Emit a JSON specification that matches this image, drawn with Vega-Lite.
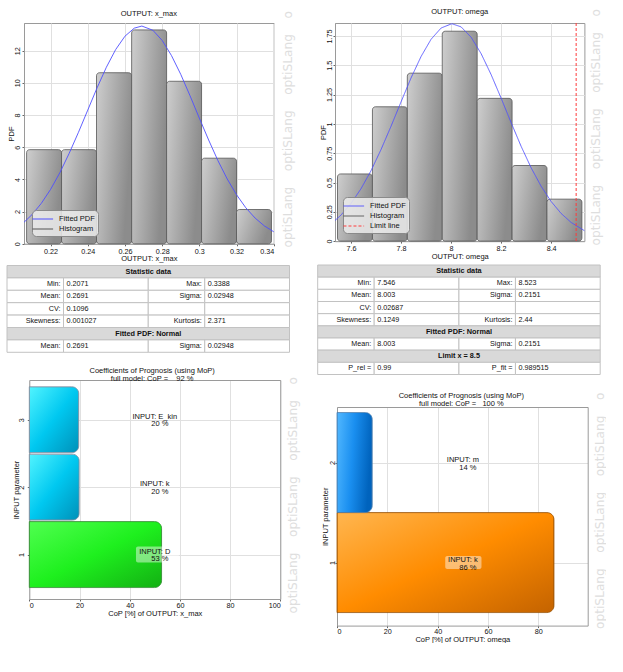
{
  "$schema": "https://vega.github.io/schema/vega-lite/v6.json",
  "background": "white",
  "padding": {"left": 6, "top": 7, "right": 0, "bottom": 0},
  "config": {
    "font": "Liberation Sans",
    "view": {"stroke": "#9a9a9a"},
    "axis": {"gridColor": "#e0e0e0", "domainColor": "#9a9a9a", "tickColor": "#666", "tickSize": 2, "labelFontSize": 7.2, "titleFontSize": 7.5, "titleFontWeight": "normal", "labelColor": "#111", "titleColor": "#111", "labelPadding": 1, "titlePadding": 0},
    "axisY": {"labelAngle": 270, "labelAlign": "center", "labelBaseline": "alphabetic", "titleAngle": 270, "titleBaseline": "alphabetic"},
    "title": {"fontSize": 7.5, "fontWeight": "normal", "color": "#111", "font": "Liberation Sans", "frame": "group", "baseline": "bottom"},
    "legend": {"labelFontSize": 7.5, "labelColor": "#111", "labelFont": "Liberation Sans"}
  },
  "datasets": {
    "histL": [
      {"bin0": 0.2071, "bin1": 0.2259, "density": 5.85},
      {"bin0": 0.2259, "bin1": 0.2447, "density": 5.85},
      {"bin0": 0.2447, "bin1": 0.2636, "density": 10.63},
      {"bin0": 0.2636, "bin1": 0.2824, "density": 13.29},
      {"bin0": 0.2824, "bin1": 0.3012, "density": 10.10},
      {"bin0": 0.3012, "bin1": 0.3200, "density": 5.32},
      {"bin0": 0.3200, "bin1": 0.3388, "density": 2.13}
    ],
    "pdfL": [
      {"x": 0.2057, "pdf": 1.34}, {"x": 0.21, "pdf": 1.81}, {"x": 0.215, "pdf": 2.51}, {"x": 0.22, "pdf": 3.38},
      {"x": 0.225, "pdf": 4.42}, {"x": 0.23, "pdf": 5.62}, {"x": 0.235, "pdf": 6.93}, {"x": 0.24, "pdf": 8.31},
      {"x": 0.245, "pdf": 9.69}, {"x": 0.25, "pdf": 10.97}, {"x": 0.255, "pdf": 12.07}, {"x": 0.26, "pdf": 12.90},
      {"x": 0.265, "pdf": 13.40}, {"x": 0.2691, "pdf": 13.53}, {"x": 0.275, "pdf": 13.27}, {"x": 0.28, "pdf": 12.64},
      {"x": 0.285, "pdf": 11.70}, {"x": 0.29, "pdf": 10.53}, {"x": 0.295, "pdf": 9.20}, {"x": 0.3, "pdf": 7.81},
      {"x": 0.305, "pdf": 6.45}, {"x": 0.31, "pdf": 5.17}, {"x": 0.315, "pdf": 4.03}, {"x": 0.32, "pdf": 3.05},
      {"x": 0.325, "pdf": 2.24}, {"x": 0.33, "pdf": 1.60}, {"x": 0.335, "pdf": 1.11}, {"x": 0.34, "pdf": 0.75}
    ],
    "histR": [
      {"bin0": 7.546, "bin1": 7.6856, "density": 0.573},
      {"bin0": 7.6856, "bin1": 7.8251, "density": 1.146},
      {"bin0": 7.8251, "bin1": 7.9647, "density": 1.433},
      {"bin0": 7.9647, "bin1": 8.1043, "density": 1.791},
      {"bin0": 8.1043, "bin1": 8.2439, "density": 1.218},
      {"bin0": 8.2439, "bin1": 8.3834, "density": 0.645},
      {"bin0": 8.3834, "bin1": 8.523, "density": 0.358}
    ],
    "pdfR": [
      {"x": 7.536, "pdf": 0.176}, {"x": 7.56, "pdf": 0.222}, {"x": 7.6, "pdf": 0.321}, {"x": 7.64, "pdf": 0.447},
      {"x": 7.68, "pdf": 0.601}, {"x": 7.72, "pdf": 0.781}, {"x": 7.76, "pdf": 0.980}, {"x": 7.8, "pdf": 1.188},
      {"x": 7.84, "pdf": 1.392}, {"x": 7.88, "pdf": 1.575}, {"x": 7.92, "pdf": 1.722}, {"x": 7.96, "pdf": 1.818},
      {"x": 8.003, "pdf": 1.855}, {"x": 8.04, "pdf": 1.828}, {"x": 8.08, "pdf": 1.740}, {"x": 8.12, "pdf": 1.600},
      {"x": 8.16, "pdf": 1.421}, {"x": 8.2, "pdf": 1.220}, {"x": 8.24, "pdf": 1.011}, {"x": 8.28, "pdf": 0.809},
      {"x": 8.32, "pdf": 0.626}, {"x": 8.36, "pdf": 0.468}, {"x": 8.4, "pdf": 0.338}, {"x": 8.44, "pdf": 0.236},
      {"x": 8.48, "pdf": 0.159}, {"x": 8.533, "pdf": 0.089}
    ],
    "tableL": [
      {"row": 0, "c0": 0, "c1": 10, "kind": "head", "text": "Statistic data"},
      {"row": 1, "c0": 0, "c1": 2, "kind": "label", "text": "Min:"},
      {"row": 1, "c0": 2, "c1": 5, "kind": "value", "text": "0.2071"},
      {"row": 1, "c0": 5, "c1": 7, "kind": "label", "text": "Max:"},
      {"row": 1, "c0": 7, "c1": 10, "kind": "value", "text": "0.3388"},
      {"row": 2, "c0": 0, "c1": 2, "kind": "label", "text": "Mean:"},
      {"row": 2, "c0": 2, "c1": 5, "kind": "value", "text": "0.2691"},
      {"row": 2, "c0": 5, "c1": 7, "kind": "label", "text": "Sigma:"},
      {"row": 2, "c0": 7, "c1": 10, "kind": "value", "text": "0.02948"},
      {"row": 3, "c0": 0, "c1": 2, "kind": "label", "text": "CV:"},
      {"row": 3, "c0": 2, "c1": 5, "kind": "value", "text": "0.1096"},
      {"row": 3, "c0": 5, "c1": 7, "kind": "label", "text": ""},
      {"row": 3, "c0": 7, "c1": 10, "kind": "value", "text": ""},
      {"row": 4, "c0": 0, "c1": 2, "kind": "label", "text": "Skewness:"},
      {"row": 4, "c0": 2, "c1": 5, "kind": "value", "text": "0.001027"},
      {"row": 4, "c0": 5, "c1": 7, "kind": "label", "text": "Kurtosis:"},
      {"row": 4, "c0": 7, "c1": 10, "kind": "value", "text": "2.371"},
      {"row": 5, "c0": 0, "c1": 10, "kind": "head", "text": "Fitted PDF: Normal"},
      {"row": 6, "c0": 0, "c1": 2, "kind": "label", "text": "Mean:"},
      {"row": 6, "c0": 2, "c1": 5, "kind": "value", "text": "0.2691"},
      {"row": 6, "c0": 5, "c1": 7, "kind": "label", "text": "Sigma:"},
      {"row": 6, "c0": 7, "c1": 10, "kind": "value", "text": "0.02948"}
    ],
    "tableR": [
      {"row": 0, "c0": 0, "c1": 10, "kind": "head", "text": "Statistic data"},
      {"row": 1, "c0": 0, "c1": 2, "kind": "label", "text": "Min:"},
      {"row": 1, "c0": 2, "c1": 5, "kind": "value", "text": "7.546"},
      {"row": 1, "c0": 5, "c1": 7, "kind": "label", "text": "Max:"},
      {"row": 1, "c0": 7, "c1": 10, "kind": "value", "text": "8.523"},
      {"row": 2, "c0": 0, "c1": 2, "kind": "label", "text": "Mean:"},
      {"row": 2, "c0": 2, "c1": 5, "kind": "value", "text": "8.003"},
      {"row": 2, "c0": 5, "c1": 7, "kind": "label", "text": "Sigma:"},
      {"row": 2, "c0": 7, "c1": 10, "kind": "value", "text": "0.2151"},
      {"row": 3, "c0": 0, "c1": 2, "kind": "label", "text": "CV:"},
      {"row": 3, "c0": 2, "c1": 5, "kind": "value", "text": "0.02687"},
      {"row": 3, "c0": 5, "c1": 7, "kind": "label", "text": ""},
      {"row": 3, "c0": 7, "c1": 10, "kind": "value", "text": ""},
      {"row": 4, "c0": 0, "c1": 2, "kind": "label", "text": "Skewness:"},
      {"row": 4, "c0": 2, "c1": 5, "kind": "value", "text": "0.1249"},
      {"row": 4, "c0": 5, "c1": 7, "kind": "label", "text": "Kurtosis:"},
      {"row": 4, "c0": 7, "c1": 10, "kind": "value", "text": "2.44"},
      {"row": 5, "c0": 0, "c1": 10, "kind": "head", "text": "Fitted PDF: Normal"},
      {"row": 6, "c0": 0, "c1": 2, "kind": "label", "text": "Mean:"},
      {"row": 6, "c0": 2, "c1": 5, "kind": "value", "text": "8.003"},
      {"row": 6, "c0": 5, "c1": 7, "kind": "label", "text": "Sigma:"},
      {"row": 6, "c0": 7, "c1": 10, "kind": "value", "text": "0.2151"},
      {"row": 7, "c0": 0, "c1": 10, "kind": "head", "text": "Limit x = 8.5"},
      {"row": 8, "c0": 0, "c1": 2, "kind": "label", "text": "P_rel ="},
      {"row": 8, "c0": 2, "c1": 5, "kind": "value", "text": "0.99"},
      {"row": 8, "c0": 5, "c1": 7, "kind": "label", "text": "P_fit ="},
      {"row": 8, "c0": 7, "c1": 10, "kind": "value", "text": "0.989515"}
    ],
    "copL": [
      {"param": 1, "input": "D", "cop": 52.7, "label": "INPUT: D", "pct": "53 %"},
      {"param": 2, "input": "k", "cop": 19.9, "label": "INPUT: k", "pct": "20 %"},
      {"param": 3, "input": "E_kin", "cop": 19.7, "label": "INPUT: E_kin", "pct": "20 %"}
    ],
    "copR": [
      {"param": 1, "input": "k", "cop": 86.2, "label": "INPUT: k", "pct": "86 %"},
      {"param": 2, "input": "m", "cop": 14.0, "label": "INPUT: m", "pct": "14 %"}
    ]
  },
  "resolve": {"scale": {"stroke": "independent", "strokeDash": "independent"}, "legend": {"stroke": "independent", "strokeDash": "independent"}},
  "spacing": 18,
  "hconcat": [
    {
      "spacing": 1.5,
      "resolve": {"scale": {"stroke": "independent", "strokeDash": "independent"}, "legend": {"stroke": "independent", "strokeDash": "independent"}},
      "vconcat": [
        {
          "width": 249.7, "height": 220.8,
          "title": {"text": "OUTPUT: x_max", "offset": -7.3},
          "resolve": {"scale": {"y": "shared"}, "axis": {"y": "independent"}},
          "layer": [
            {
              "data": {"name": "histL"},
              "mark": {"type": "rect", "cornerRadius": 3, "strokeWidth": 0.8,
                "fill": {"gradient": "linear", "x1": 0, "y1": 0, "x2": 1, "y2": 0.35, "stops": [{"offset": 0, "color": "#cecece"}, {"offset": 1, "color": "#8c8c8c"}]}},
              "encoding": {
                "x": {"field": "bin0", "type": "quantitative", "scale": {"domain": [0.2057, 0.34], "nice": false, "zero": false},
                  "axis": {"values": [0.22, 0.24, 0.26, 0.28, 0.3, 0.32, 0.34], "format": ".2~f", "title": "OUTPUT: x_max", "grid": true, "labelPadding": 1.3}},
                "x2": {"field": "bin1"},
                "y": {"field": "density", "type": "quantitative", "scale": {"domain": [0, 13.72], "nice": false},
                  "axis": {"values": [0, 2, 4, 6, 8, 10, 12], "title": "PDF", "grid": true, "labelPadding": 2.3, "minExtent": 17, "titleX": -10.3}},
                "y2": {"datum": 0},
                "stroke": {"datum": "Histogram", "type": "nominal",
                  "scale": {"domain": ["Fitted PDF", "Histogram"], "range": ["#4f4fff", "#555555"]},
                  "legend": {"title": null, "orient": "bottom-left", "offset": 8, "fillColor": "rgba(236,236,236,0.85)", "strokeColor": "#8a8a8a", "cornerRadius": 4, "padding": 3, "symbolSize": 121, "labelOffset": 12, "rowPadding": 0, "symbolStrokeWidth": 1, "symbolType": "M-1.55,0H2.2"}}
              }
            },
            {
              "data": {"name": "pdfL"},
              "mark": {"type": "line", "strokeWidth": 0.9},
              "encoding": {
                "x": {"field": "x", "type": "quantitative"},
                "y": {"field": "pdf", "type": "quantitative", "scale": {"domain": [0, 13.72], "nice": false},
                  "axis": {"orient": "right", "title": "optiSLang\u00a0\u00a0\u00a0\u00a0optiSLang\u00a0\u00a0\u00a0\u00a0optiSLang\u00a0\u00a0\u00a0\u00a0o", "labels": false, "ticks": false, "domain": false, "grid": false, "minExtent": 0, "titleColor": "#dedede", "titleFont": "DejaVu Sans", "titleFontSize": 12.2, "titleX": 17.3, "titleY": 105.8}},
                "stroke": {"datum": "Fitted PDF", "type": "nominal"}
              }
            }
          ]
        },
        {
          "width": 265.5, "height": 98.4,
          "view": {"stroke": null},
          "data": {"name": "tableL"},
          "encoding": {
            "y": {"field": "row", "type": "ordinal", "scale": {"paddingInner": 0, "paddingOuter": 0.468, "align": 0}, "axis": null}
          },
          "layer": [
            {
              "mark": {"type": "rect", "stroke": "#c2c2c2", "strokeWidth": 1},
              "encoding": {
                "x": {"field": "c0", "type": "quantitative", "scale": {"domain": [0, 10], "range": [-17, 265.5], "nice": false, "zero": false}, "axis": null},
                "x2": {"field": "c1"},
                "fill": {"field": "kind", "type": "nominal", "scale": {"domain": ["head", "label", "value"], "range": ["#d9d9d9", "#ffffff", "#ffffff"]}, "legend": null}
              }
            },
            {
              "transform": [{"filter": "datum.kind === 'head'"}],
              "mark": {"type": "text", "fontWeight": "bold", "fontSize": 7.3, "color": "#111"},
              "encoding": {"x": {"datum": 5}, "text": {"field": "text"}}
            },
            {
              "transform": [{"filter": "datum.kind === 'label'"}],
              "mark": {"type": "text", "align": "right", "dx": -3, "fontSize": 7.2, "color": "#111"},
              "encoding": {"x": {"field": "c1", "type": "quantitative"}, "text": {"field": "text"}}
            },
            {
              "transform": [{"filter": "datum.kind === 'value'"}],
              "mark": {"type": "text", "align": "left", "dx": 3, "fontSize": 7.2, "color": "#111"},
              "encoding": {"x": {"field": "c0", "type": "quantitative"}, "text": {"field": "text"}}
            }
          ]
        },
        {
          "width": 256.3, "height": 219,
          "view": {"stroke": null},
          "title": {"text": ["Coefficients of Prognosis (using MoP)", "full model: CoP =\u00a0\u00a0\u00a0\u00a092 %"], "lineHeight": 8, "offset": -5.6},
          "data": {"name": "copL"},
          "resolve": {"scale": {"y": "shared", "x": "shared"}, "axis": {"y": "independent", "x": "independent"}},
          "layer": [
            {
              "transform": [{"filter": "datum.param === 1"}],
              "mark": {"type": "bar", "orient": "horizontal", "size": 66, "cornerRadiusEnd": 7, "stroke": "#2f8f2f", "strokeWidth": 0.8,
                "fill": {"gradient": "linear", "x1": 0, "y1": 0, "x2": 1, "y2": 1, "stops": [{"offset": 0, "color": "#50ff50"}, {"offset": 0.5, "color": "#1ef01e"}, {"offset": 1, "color": "#13b013"}]}},
              "encoding": {
                "x": {"field": "cop", "type": "quantitative", "scale": {"domain": [0, 100], "range": [5.3, 256.3], "nice": false},
                  "axis": {"values": [0, 20, 40, 60, 80, 100], "title": "CoP [%] of OUTPUT: x_max", "grid": true, "labelPadding": 0.4, "titlePadding": 0.5}},
                "y": {"field": "param", "type": "quantitative", "scale": {"domain": [0.415, 3.515], "nice": false, "zero": false},
                  "axis": {"values": [1, 2, 3], "title": "INPUT parameter", "grid": true, "offset": -5.3, "labelPadding": 3.6, "titleX": -10.5}}
              }
            },
            {
              "transform": [{"filter": "datum.param !== 1"}],
              "mark": {"type": "bar", "orient": "horizontal", "size": 66, "cornerRadiusEnd": 7, "stroke": "#7d8fa3", "strokeWidth": 0.8,
                "fill": {"gradient": "linear", "x1": 0, "y1": 0, "x2": 1, "y2": 1, "stops": [{"offset": 0, "color": "#52f4ff"}, {"offset": 0.5, "color": "#00c8f0"}, {"offset": 1, "color": "#0090b8"}]}},
              "encoding": {
                "x": {"field": "cop", "type": "quantitative", "axis": null},
                "y": {"field": "param", "type": "quantitative", "axis": null}
              }
            },
            {
              "transform": [{"filter": "datum.param === 1"}],
              "mark": {"type": "bar", "orient": "horizontal", "size": 16, "cornerRadius": 2, "fill": "#ffffff", "fillOpacity": 0.45},
              "encoding": {
                "x": {"datum": 42.5, "type": "quantitative", "axis": null},
                "x2": {"datum": 59.6},
                "y": {"field": "param", "type": "quantitative", "axis": null}
              }
            },
            {
              "mark": {"type": "text", "dy": -3, "fontSize": 7.5, "color": "#111"},
              "encoding": {
                "x": {"datum": 50, "type": "quantitative", "axis": {"orient": "top", "labels": false, "ticks": false, "title": null, "grid": false, "domain": true}},
                "y": {"field": "param", "type": "quantitative",
                  "axis": {"orient": "right", "title": "optiSLang\u00a0\u00a0\u00a0\u00a0optiSLang\u00a0\u00a0\u00a0\u00a0optiSLang\u00a0\u00a0\u00a0\u00a0o", "labels": false, "ticks": false, "domain": true, "grid": false, "minExtent": 0, "titleColor": "#dedede", "titleFont": "DejaVu Sans", "titleFontSize": 12.2, "titleX": 15.7, "titleY": 114.7}},
                "text": {"field": "label"}
              }
            },
            {
              "mark": {"type": "text", "dy": 4.5, "dx": 5, "fontSize": 7.5, "color": "#111"},
              "encoding": {
                "x": {"datum": 50, "type": "quantitative", "axis": null},
                "y": {"field": "param", "type": "quantitative", "axis": null},
                "text": {"field": "pct"}
              }
            }
          ]
        }
      ]
    },
    {
      "spacing": 4,
      "resolve": {"scale": {"stroke": "independent", "strokeDash": "independent"}, "legend": {"stroke": "independent", "strokeDash": "independent"}},
      "vconcat": [
        {
          "width": 249.4, "height": 218.1,
          "title": {"text": "OUTPUT: omega", "offset": -6.6},
          "resolve": {"scale": {"y": "shared"}, "axis": {"y": "independent"}},
          "layer": [
            {
              "data": {"name": "histR"},
              "mark": {"type": "rect", "cornerRadius": 3, "strokeWidth": 0.8,
                "fill": {"gradient": "linear", "x1": 0, "y1": 0, "x2": 1, "y2": 0.35, "stops": [{"offset": 0, "color": "#cecece"}, {"offset": 1, "color": "#8c8c8c"}]}},
              "encoding": {
                "x": {"field": "bin0", "type": "quantitative", "scale": {"domain": [7.536, 8.533], "nice": false, "zero": false},
                  "axis": {"values": [7.6, 7.8, 8, 8.2, 8.4], "format": ".1~f", "title": "OUTPUT: omega", "grid": true, "labelPadding": 1.7}},
                "x2": {"field": "bin1"},
                "y": {"field": "density", "type": "quantitative", "scale": {"domain": [0, 1.861], "nice": false},
                  "axis": {"values": [0, 0.25, 0.5, 0.75, 1, 1.25, 1.5, 1.75], "format": ".3~g", "title": "PDF", "grid": true, "labelPadding": 1.3, "minExtent": 17.3, "titleX": -9.3}},
                "y2": {"datum": 0},
                "stroke": {"datum": "Histogram", "type": "nominal",
                  "scale": {"domain": ["Fitted PDF", "Histogram", "Limit line"], "range": ["#4f4fff", "#555555", "#ff3c3c"]},
                  "legend": {"title": null, "orient": "bottom-left", "offset": 8, "fillColor": "rgba(236,236,236,0.85)", "strokeColor": "#8a8a8a", "cornerRadius": 4, "padding": 3, "symbolSize": 121, "labelOffset": 12, "rowPadding": 0, "symbolStrokeWidth": 1, "symbolType": "M-1.55,0H2.2"}}
              }
            },
            {
              "data": {"name": "pdfR"},
              "mark": {"type": "line", "strokeWidth": 0.9},
              "encoding": {
                "x": {"field": "x", "type": "quantitative"},
                "y": {"field": "pdf", "type": "quantitative", "scale": {"domain": [0, 1.861], "nice": false},
                  "axis": {"orient": "right", "title": "optiSLang\u00a0\u00a0\u00a0\u00a0optiSLang\u00a0\u00a0\u00a0\u00a0optiSLang\u00a0\u00a0\u00a0\u00a0o", "labels": false, "ticks": false, "domain": false, "grid": false, "minExtent": 0, "titleColor": "#dedede", "titleFont": "DejaVu Sans", "titleFontSize": 12.2, "titleX": 15.3, "titleY": 103.8}},
                "stroke": {"datum": "Fitted PDF", "type": "nominal"},
                "strokeDash": {"datum": "Fitted PDF", "type": "nominal",
                  "scale": {"domain": ["Fitted PDF", "Histogram", "Limit line"], "range": [[1, 0], [1, 0], [3, 2]]},
                  "legend": {"title": null, "orient": "bottom-left", "offset": 8, "fillColor": "rgba(236,236,236,0.85)", "strokeColor": "#8a8a8a", "cornerRadius": 4, "padding": 3, "symbolSize": 121, "labelOffset": 12, "rowPadding": 0, "symbolStrokeWidth": 1, "symbolType": "M-1.55,0H2.2"}}
              }
            },
            {
              "data": {"values": [{"limit": 8.5}]},
              "mark": {"type": "rule", "strokeWidth": 1},
              "encoding": {
                "x": {"field": "limit", "type": "quantitative"},
                "stroke": {"datum": "Limit line", "type": "nominal"},
                "strokeDash": {"datum": "Limit line", "type": "nominal"}
              }
            }
          ]
        },
        {
          "width": 265.2, "height": 121.5,
          "view": {"stroke": null},
          "data": {"name": "tableR"},
          "encoding": {
            "y": {"field": "row", "type": "ordinal", "scale": {"paddingInner": 0, "paddingOuter": 0.493, "align": 0}, "axis": null}
          },
          "layer": [
            {
              "mark": {"type": "rect", "stroke": "#c2c2c2", "strokeWidth": 1},
              "encoding": {
                "x": {"field": "c0", "type": "quantitative", "scale": {"domain": [0, 10], "range": [-17.3, 265.2], "nice": false, "zero": false}, "axis": null},
                "x2": {"field": "c1"},
                "fill": {"field": "kind", "type": "nominal", "scale": {"domain": ["head", "label", "value"], "range": ["#d9d9d9", "#ffffff", "#ffffff"]}, "legend": null}
              }
            },
            {
              "transform": [{"filter": "datum.kind === 'head'"}],
              "mark": {"type": "text", "fontWeight": "bold", "fontSize": 7.3, "color": "#111"},
              "encoding": {"x": {"datum": 5}, "text": {"field": "text"}}
            },
            {
              "transform": [{"filter": "datum.kind === 'label'"}],
              "mark": {"type": "text", "align": "right", "dx": -3, "fontSize": 7.2, "color": "#111"},
              "encoding": {"x": {"field": "c1", "type": "quantitative"}, "text": {"field": "text"}}
            },
            {
              "transform": [{"filter": "datum.kind === 'value'"}],
              "mark": {"type": "text", "align": "left", "dx": 3, "fontSize": 7.2, "color": "#111"},
              "encoding": {"x": {"field": "c0", "type": "quantitative"}, "text": {"field": "text"}}
            }
          ]
        },
        {
          "width": 252.7, "height": 218.6,
          "view": {"stroke": null},
          "title": {"text": ["Coefficients of Prognosis (using MoP)", "full model: CoP =\u00a0\u00a0\u00a0100 %"], "lineHeight": 8, "offset": -15.3},
          "data": {"name": "copR"},
          "resolve": {"scale": {"y": "shared", "x": "shared"}, "axis": {"y": "independent", "x": "independent"}},
          "layer": [
            {
              "transform": [{"filter": "datum.param === 1"}],
              "mark": {"type": "bar", "orient": "horizontal", "size": 100, "cornerRadiusEnd": 7, "stroke": "#9a5200", "strokeWidth": 0.8,
                "fill": {"gradient": "linear", "x1": 0, "y1": 0, "x2": 1, "y2": 1, "stops": [{"offset": 0, "color": "#ffb650"}, {"offset": 0.5, "color": "#ff8c00"}, {"offset": 1, "color": "#c46300"}]}},
              "encoding": {
                "x": {"field": "cop", "type": "quantitative", "scale": {"domain": [0, 99.6], "range": [2, 252.7], "nice": false},
                  "axis": {"values": [0, 20, 40, 60, 80], "title": "CoP [%] of OUTPUT: omega", "grid": true, "labelPadding": 0, "titlePadding": 0.5}},
                "y": {"field": "param", "type": "quantitative", "scale": {"domain": [0.42, 2.505], "nice": false, "zero": false},
                  "axis": {"values": [1, 2], "title": "INPUT parameter", "grid": true, "offset": -2, "labelPadding": 1, "titleX": -9.8}}
              }
            },
            {
              "transform": [{"filter": "datum.param !== 1"}],
              "mark": {"type": "bar", "orient": "horizontal", "size": 100, "cornerRadiusEnd": 7, "stroke": "#4a7fb0", "strokeWidth": 0.8,
                "fill": {"gradient": "linear", "x1": 0, "y1": 0, "x2": 1, "y2": 0.2, "stops": [{"offset": 0, "color": "#52b8ff"}, {"offset": 0.5, "color": "#1a8ff0"}, {"offset": 1, "color": "#0063bd"}]}},
              "encoding": {
                "x": {"field": "cop", "type": "quantitative", "axis": null},
                "y": {"field": "param", "type": "quantitative", "axis": null}
              }
            },
            {
              "transform": [{"filter": "datum.param === 1"}],
              "mark": {"type": "bar", "orient": "horizontal", "size": 13, "cornerRadius": 2, "fill": "#ffffff", "fillOpacity": 0.45},
              "encoding": {
                "x": {"datum": 43, "type": "quantitative", "axis": null},
                "x2": {"datum": 57.4},
                "y": {"field": "param", "type": "quantitative", "axis": null}
              }
            },
            {
              "mark": {"type": "text", "dy": -2.5, "fontSize": 7.5, "color": "#111"},
              "encoding": {
                "x": {"datum": 50, "type": "quantitative", "axis": {"orient": "top", "labels": false, "ticks": false, "title": null, "grid": false, "domain": true}},
                "y": {"field": "param", "type": "quantitative",
                  "axis": {"orient": "right", "title": "optiSLang\u00a0\u00a0\u00a0\u00a0optiSLang\u00a0\u00a0\u00a0\u00a0optiSLang\u00a0\u00a0\u00a0\u00a0o", "labels": false, "ticks": false, "domain": true, "grid": false, "minExtent": 0, "titleColor": "#dedede", "titleFont": "DejaVu Sans", "titleFontSize": 12.2, "titleX": 16, "titleY": 103.3}},
                "text": {"field": "label"}
              }
            },
            {
              "mark": {"type": "text", "dy": 5, "dx": 5, "fontSize": 7.5, "color": "#111"},
              "encoding": {
                "x": {"datum": 50, "type": "quantitative", "axis": null},
                "y": {"field": "param", "type": "quantitative", "axis": null},
                "text": {"field": "pct"}
              }
            }
          ]
        }
      ]
    }
  ]
}
